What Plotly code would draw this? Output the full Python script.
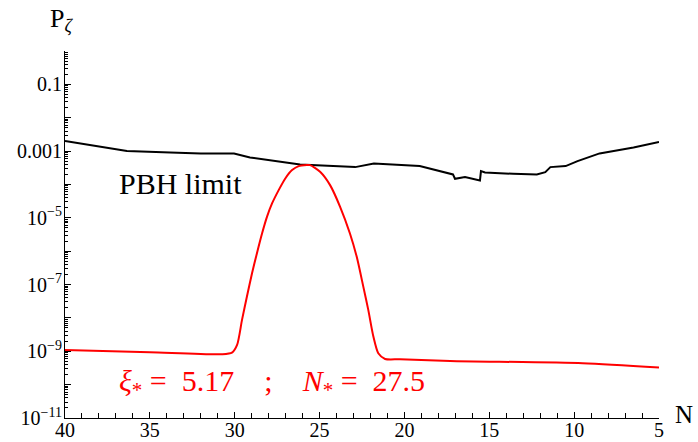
import plotly.graph_objects as go

# PBH limit curve (N, log10 P)
pbh_N = [40, 36.35, 33.8, 32.0, 30.04, 29.1, 26.15, 23.8, 22.9, 21.8, 19.1,
         17.14, 17.02, 16.43, 15.55, 15.49, 15.25, 13.6, 12.2, 11.7, 11.4,
         10.5, 9.8, 8.5, 6.5, 5]
pbh_logP = [-2.70, -3.00, -3.04, -3.07, -3.07, -3.19, -3.40, -3.45, -3.48, -3.37, -3.45,
            -3.70, -3.83, -3.78, -3.88, -3.60, -3.64, -3.68, -3.70, -3.63, -3.48,
            -3.45, -3.30, -3.07, -2.89, -2.73]

# Power spectrum curve (N, log10 P)
ps_N = [40, 35, 30.75, 30.16, 29.86, 29.57, 29.28, 28.98, 28.69, 28.39, 28.10, 27.80,
        27.41, 27.02, 26.62, 26.23, 25.74, 25.56, 24.97, 24.38, 23.79, 23.21, 22.81,
        22.42, 22.13, 21.83, 21.54, 21.14, 20.26, 17.3, 9.5, 5]
ps_logP = [-8.96, -9.03, -9.09, -9.04, -8.81, -8.06, -7.36, -6.66, -6.06, -5.47, -4.97, -4.57,
           -4.17, -3.82, -3.57, -3.45, -3.42, -3.42, -3.62, -4.02, -4.67, -5.47, -6.17,
           -7.07, -7.76, -8.56, -9.06, -9.23, -9.24, -9.29, -9.36, -9.49]

y_tickvals = [10.0 ** e for e in range(-11, 1)]
y_labels = {-11: "10<sup>\u221211</sup>", -9: "10<sup>\u22129</sup>", -7: "10<sup>\u22127</sup>",
            -5: "10<sup>\u22125</sup>", -3: "0.001", -1: "0.1"}
y_ticktext = [y_labels.get(e, "") for e in range(-11, 1)]

x_tickvals = [40, 35, 30, 25, 20, 15, 10, 5]

FONT = "Liberation Serif, Times New Roman, serif"
NB = "\u00a0"

fig = go.Figure()
fig.add_trace(go.Scatter(x=pbh_N, y=[10 ** v for v in pbh_logP], mode="lines",
                         line=dict(color="black", width=2), showlegend=False))
fig.add_trace(go.Scatter(x=ps_N, y=[10 ** v for v in ps_logP], mode="lines",
                         line=dict(color="#ff0000", width=2, shape="spline", smoothing=0.7),
                         showlegend=False))

fig.update_layout(
    width=698, height=442,
    margin=dict(l=65, r=39, t=51, b=24),
    paper_bgcolor="white", plot_bgcolor="white",
    font=dict(family=FONT, size=20, color="black"),
    xaxis=dict(range=[40, 5], showgrid=False, zeroline=False, automargin=False,
               showline=True, linecolor="black", linewidth=1,
               ticks="inside", ticklen=6, tickcolor="black",
               tickvals=x_tickvals, ticktext=[str(v) for v in x_tickvals],
               ticklabelstandoff=-6,
               minor=dict(ticks="inside", ticklen=5, dtick=1, tickcolor="black", showgrid=False),
               tickfont=dict(family=FONT, size=20)),
    yaxis=dict(type="log", range=[-11, 0], showgrid=False, zeroline=False, automargin=False,
               showline=True, linecolor="black", linewidth=1,
               ticks="inside", ticklen=6, tickcolor="black",
               tickmode="array", tickvals=y_tickvals, ticktext=y_ticktext,
               ticklabelstandoff=-2,
               minor=dict(ticks="inside", ticklen=3, dtick="D1", tickcolor="black", showgrid=False),
               tickfont=dict(family=FONT, size=20)),
)

fig.add_annotation(text="N", xref="paper", yref="paper", x=1.042, y=0.01,
                   showarrow=False, xanchor="center", yanchor="middle",
                   font=dict(family=FONT, size=25, color="black"))
fig.add_annotation(text="P<sub><i>\u03b6</i></sub>", xref="paper", yref="paper", x=-0.028, y=1.085,
                   showarrow=False, xanchor="left", yanchor="middle",
                   font=dict(family=FONT, size=26, color="black"))
fig.add_annotation(text="PBH limit", xref="x", yref="y", x=36.95, y=-3.96,
                   showarrow=False, xanchor="left", yanchor="middle",
                   font=dict(family=FONT, size=30, color="black"))
red_text = ("<i>\u03be</i><sub>*</sub> =" + NB * 2 + "5.17" + NB * 4 + ";" + NB * 4
            + "<i>N</i><sub>*</sub> =" + NB * 2 + "27.5")
fig.add_annotation(text=red_text,
                   xref="x", yref="y", x=36.95, y=-9.94,
                   showarrow=False, xanchor="left", yanchor="middle",
                   font=dict(family=FONT, size=30, color="#ff0000"))

fig.write_html("out.html", config={"displayModeBar": False},
               post_script="document.body.style.margin='0';")
